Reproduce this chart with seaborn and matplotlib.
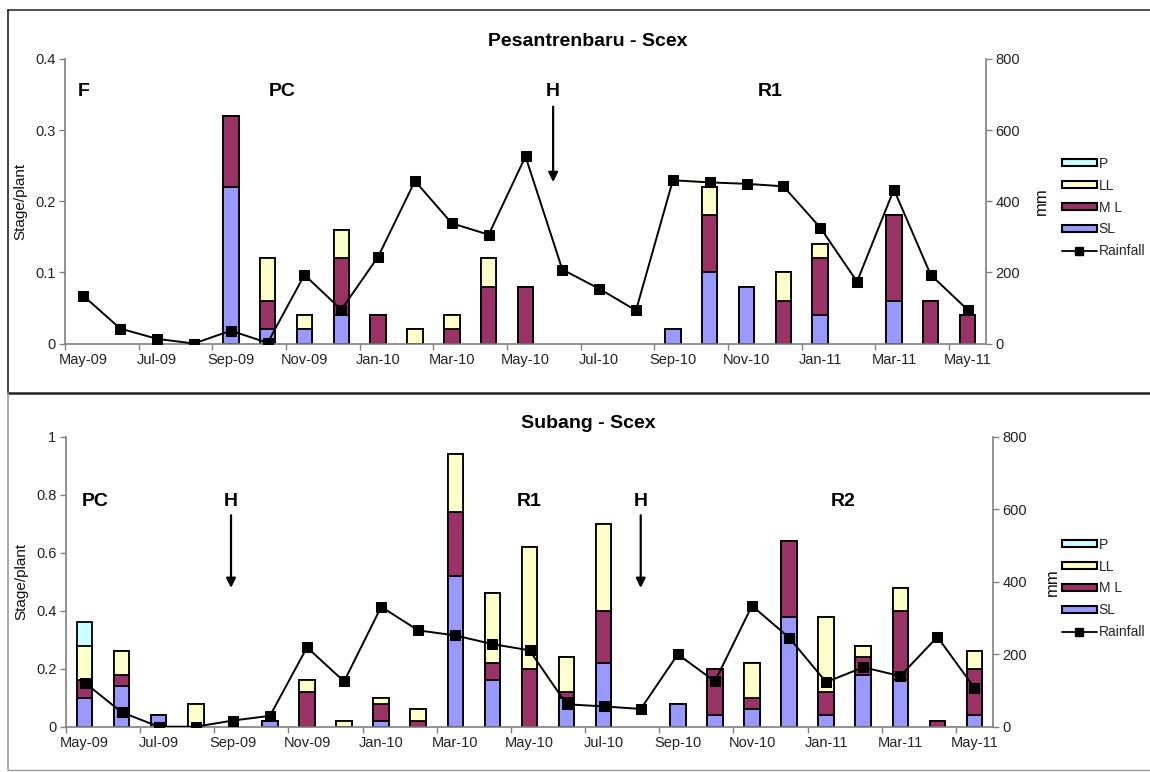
import numpy as np
import pandas as pd
import matplotlib
matplotlib.use("Agg")
import matplotlib.pyplot as plt
import seaborn as sns
from matplotlib.patches import Patch
from matplotlib.lines import Line2D

# ---------------- data ----------------
months = ["May-09", "Jun-09", "Jul-09", "Aug-09", "Sep-09", "Oct-09", "Nov-09", "Dec-09",
          "Jan-10", "Feb-10", "Mar-10", "Apr-10", "May-10", "Jun-10", "Jul-10", "Aug-10",
          "Sep-10", "Oct-10", "Nov-10", "Dec-10", "Jan-11", "Feb-11", "Mar-11", "Apr-11", "May-11"]
tick_labels = months[::2]

# Pesantrenbaru
pes_sl = [0, 0, 0, 0, .22, .02, .02, .04, 0, 0, 0, 0, 0, 0, 0, 0, .02, .10, .08, 0, .04, 0, .06, 0, 0]
pes_ml = [0, 0, 0, 0, .10, .04, 0, .08, .04, 0, .02, .08, .08, 0, 0, 0, 0, .08, 0, .06, .08, 0, .12, .06, .04]
pes_ll = [0, 0, 0, 0, 0, .06, .02, .04, 0, .02, .02, .04, 0, 0, 0, 0, 0, .04, 0, .04, .02, 0, 0, 0, 0]
pes_p = [0] * 25
pes_rain = [134, 42, 13, 0, 36, 2, 193, 95, 244, 457, 338, 306, 526, 208, 154, 93,
            459, 453, 449, 442, 326, 174, 433, 193, 95]

# Subang
sub_sl = [.10, .14, .04, 0, 0, .02, 0, 0, .02, 0, .52, .16, 0, .10, .22, 0, .08, .04, .06, .38, .04, .18, .16, 0, .04]
sub_ml = [.06, .04, 0, 0, 0, 0, .12, 0, .06, .02, .22, .06, .20, .02, .18, 0, 0, .16, .04, .26, .08, .06, .24, .02, .16]
sub_ll = [.12, .08, 0, .08, 0, 0, .04, .02, .02, .04, .20, .24, .42, .12, .30, 0, 0, 0, .12, 0, .26, .04, .08, 0, .06]
sub_p = [.08] + [0] * 24
sub_rain = [122, 40, 0, 0, 17, 30, 219, 125, 331, 266, 252, 228, 211, 62, 56, 49,
            200, 125, 334, 246, 123, 164, 140, 248, 107]

stage_names = ["P", "LL", "ML", "SL"]
stage_colors = {"P": "#CCFFFF", "LL": "#FFFFCC", "ML": "#993366", "SL": "#9999FF"}

# ---------------- style ----------------
sns.set_theme(style="white")
plt.rcParams["font.family"] = ["Liberation Sans", "DejaVu Sans"]
GREY = "#808080"

W, H = 1150, 772
fig = plt.figure(figsize=(W / 100, H / 100), dpi=100)


def fx(px):
    return px / W


def fy(py):
    return 1 - py / H


def draw_panel(rect, sl, ml, ll, p, rain, ymax, yticks, ylabels, title, title_y, notes, arrows,
               leg_y, mm_x):
    ax = fig.add_axes(rect)
    df = pd.DataFrame({"month": months, "SL": sl, "ML": ml, "LL": ll, "P": p})
    layers = [("P", ["SL", "ML", "LL", "P"]), ("LL", ["SL", "ML", "LL"]),
              ("ML", ["SL", "ML"]), ("SL", ["SL"])]
    for name, cols in layers:
        h = df[cols].sum(axis=1).round(4).replace(0, np.nan)
        sns.barplot(x=df["month"], y=h, order=months, color=stage_colors[name],
                    saturation=1, edgecolor="black", linewidth=1.3, width=0.42,
                    errorbar=None, ax=ax)
    ax.set_ylim(0, ymax)
    ax.set_yticks(yticks)
    ax.set_yticklabels(ylabels)
    ax.set_xticks(range(0, 25, 2))
    ax.set_xticklabels(tick_labels)
    ax.set_xticks(np.arange(-0.5, 24, 2), minor=True)
    ax.tick_params(axis="x", which="major", length=0, pad=7, labelsize=10.5, colors="#222222")
    ax.tick_params(axis="x", which="minor", length=4, width=1, color=GREY, direction="out", bottom=True)
    ax.tick_params(axis="y", length=4, width=1, color=GREY, direction="out", left=True,
                   labelsize=10.5, labelcolor="#222222", pad=3)
    ax.set_xlabel("")
    ax.set_ylabel("Stage/plant", fontsize=11, color="#111111")
    ax.yaxis.set_label_coords(-0.041, 0.5)
    for s in ["top", "right"]:
        ax.spines[s].set_visible(False)
    for s in ["left", "bottom"]:
        ax.spines[s].set_color(GREY)
        ax.spines[s].set_linewidth(1.2)

    ax2 = ax.twinx()
    sns.lineplot(x=np.arange(len(months)), y=rain, ax=ax2, color="black", marker="s",
                 markersize=7.5, markeredgecolor="black", linewidth=1.4)
    ax2.set_ylim(0, 800)
    ax2.set_yticks([0, 200, 400, 600, 800])
    ax2.tick_params(axis="y", length=4, width=1, color=GREY, direction="out", right=True,
                    labelsize=10.5, labelcolor="#222222", pad=3)
    ax2.set_ylabel("mm", fontsize=12, color="#111111")
    ax2.yaxis.set_label_coords(mm_x, 0.5)
    for s in ["top", "left", "bottom"]:
        ax2.spines[s].set_visible(False)
    ax2.spines["right"].set_color(GREY)
    ax2.spines["right"].set_linewidth(1.2)
    ax.set_xlim(-0.5, 24.5)
    ax2.grid(False)
    ax.grid(False)

    fig.text(fx(588), fy(title_y), title, ha="center", va="center",
             fontsize=14, fontweight="bold", color="black")
    for xpos, ypos, txt in notes:
        ax.text(xpos, ypos, txt, ha="center", va="center", fontsize=14,
                fontweight="bold", color="black")
    for xpos, y0, y1 in arrows:
        ax.annotate("", xy=(xpos, y1), xytext=(xpos, y0),
                    arrowprops=dict(arrowstyle="-|>", color="black", lw=1.6,
                                    mutation_scale=14, shrinkA=0, shrinkB=0))

    handles = [Patch(facecolor=stage_colors[n], edgecolor="black", linewidth=1.5) for n in stage_names]
    handles.append(Line2D([0], [0], color="black", marker="s", markersize=6, linewidth=1.3))
    labels = ["P", "LL", "M L", "SL", "Rainfall"]
    fig.legend(handles, labels, loc="center left", bbox_to_anchor=(fx(1062), fy(leg_y)),
               frameon=False, fontsize=10, handlelength=2.5, handleheight=0.4,
               handletextpad=0.15, labelspacing=0.56, borderpad=0, borderaxespad=0)
    return ax, ax2


# top panel
draw_panel([fx(65), fy(343.5), fx(986) - fx(65), fy(59) - fy(343.5)],
           pes_sl, pes_ml, pes_ll, pes_p, pes_rain, 0.4,
           [0, 0.1, 0.2, 0.3, 0.4], ["0", "0.1", "0.2", "0.3", "0.4"],
           "Pesantrenbaru - Scex", 41,
           [(0.0, 0.354, "F"), (5.4, 0.354, "PC"), (12.75, 0.354, "H"), (18.64, 0.354, "R1")],
           [(12.75, 0.333, 0.227)], 207.5, 1.052)

# bottom panel
draw_panel([fx(66), fy(726.7), fx(993) - fx(66), fy(437) - fy(726.7)],
           sub_sl, sub_ml, sub_ll, sub_p, sub_rain, 1.0,
           [0, 0.2, 0.4, 0.6, 0.8, 1.0], ["0", "0.2", "0.4", "0.6", "0.8", "1"],
           "Subang - Scex", 424,
           [(0.28, 0.776, "PC"), (3.95, 0.776, "H"), (12.0, 0.776, "R1"),
            (15.0, 0.776, "H"), (20.45, 0.776, "R2")],
           [(3.95, 0.73, 0.479), (15.0, 0.73, 0.479)], 588.5, 1.056)

# panel frames
fig.add_artist(Line2D([fx(8), 1.0], [fy(10), fy(10)], color="#333333", lw=1.2))
fig.add_artist(Line2D([fx(8), fx(8)], [fy(10), fy(393)], color="#222222", lw=1.2))
fig.add_artist(Line2D([fx(8), 1.0], [fy(393), fy(393)], color="#222222", lw=1.8))
fig.add_artist(Line2D([fx(8), fx(8)], [fy(393), fy(770)], color="#999999", lw=1.2))
fig.add_artist(Line2D([fx(8), 1.0], [fy(770), fy(770)], color="#999999", lw=1.0))

fig.savefig("out.png", dpi=100)
